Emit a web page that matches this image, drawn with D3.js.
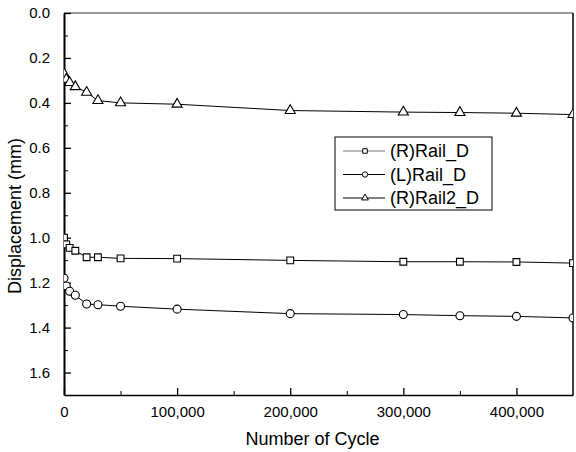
<!DOCTYPE html>
<html>
<head>
<meta charset="utf-8">
<script src="https://cdn.jsdelivr.net/npm/d3@7"></script>
<style>
  body { margin: 0; background: #fff; }
  text { font-family: "Liberation Sans", Arial, sans-serif; fill: #000; }
</style>
</head>
<body>
<script>
// data
var cycles = [0, 2000, 5000, 10000, 20000, 30000, 50000, 100000, 200000, 300000, 350000, 400000, 450000];
var railR  = [1.00, 1.03, 1.045, 1.058, 1.087, 1.087, 1.092, 1.093, 1.101, 1.107, 1.107, 1.108, 1.113];
var railL  = [1.18, 1.215, 1.238, 1.256, 1.295, 1.298, 1.305, 1.318, 1.338, 1.342, 1.347, 1.35, 1.357];
var rail2R = [0.27, 0.295, 0.31, 0.328, 0.353, 0.39, 0.40, 0.406, 0.434, 0.441, 0.443, 0.446, 0.452];
var seriesNames = ["(R)Rail_D", "(L)Rail_D", "(R)Rail2_D"];
var xTicks = [0, 100000, 200000, 300000, 400000];
var yTicks = [0, 0.2, 0.4, 0.6, 0.8, 1.0, 1.2, 1.4, 1.6];

// set the dimensions and margins of the graph
var margin = {top: 13, right: 3, bottom: 57, left: 64},
    width = 576 - margin.left - margin.right,
    height = 452 - margin.top - margin.bottom;

var x = d3.scaleLinear().domain([0, 450000]).range([0, width]);
var y = d3.scaleLinear().domain([0, 1.7]).range([0, height]);

var svg = d3.select("body").append("svg")
    .attr("width", 576)
    .attr("height", 452)
  .append("g")
    .attr("transform", "translate(" + margin.left + "," + margin.top + ")");

svg.append("clipPath").attr("id", "clip")
  .append("rect").attr("width", width).attr("height", height);

// frame (top and right)
svg.append("line").attr("x1", 0).attr("x2", width).attr("y1", 0).attr("y2", 0)
  .attr("stroke", "#333").attr("stroke-width", 1);
svg.append("line").attr("x1", width).attr("x2", width).attr("y1", 0).attr("y2", height)
  .attr("stroke", "#000").attr("stroke-width", 1.5);

// bottom axis, ticks pointing inward
var xAxis = svg.append("g")
  .attr("transform", "translate(0," + height + ")")
  .call(d3.axisBottom(x).tickValues(xTicks).tickSizeInner(-7).tickSizeOuter(0)
    .tickPadding(11).tickFormat(d3.format(",")));
xAxis.selectAll(".tick text").attr("font-size", 15).attr("font-family", "Liberation Sans, Arial, sans-serif");
xAxis.selectAll(".tick line").attr("stroke-width", 1.3);
xAxis.select(".domain").attr("stroke-width", 1.5);
svg.append("g")
  .attr("transform", "translate(0," + height + ")")
  .call(d3.axisBottom(x).tickValues([50000, 150000, 250000, 350000]).tickSize(-4).tickFormat(""))
  .call(function(g) { g.select(".domain").remove(); });

// left axis
var yAxis = svg.append("g")
  .call(d3.axisLeft(y).tickValues(yTicks).tickSizeInner(-7).tickSizeOuter(0)
    .tickPadding(14).tickFormat(d3.format(".1f")));
yAxis.selectAll(".tick text").attr("font-size", 15).attr("font-family", "Liberation Sans, Arial, sans-serif");
yAxis.selectAll(".tick line").attr("stroke-width", 1.3);
yAxis.select(".domain").attr("stroke-width", 2);
svg.append("g")
  .call(d3.axisLeft(y).tickValues([0.1, 0.3, 0.5, 0.7, 0.9, 1.1, 1.3, 1.5]).tickSize(-4).tickFormat(""))
  .call(function(g) { g.select(".domain").remove(); });

// axis titles
svg.append("text")
  .attr("x", width / 2 - 6).attr("y", height + 50)
  .attr("text-anchor", "middle").attr("font-size", 18)
  .text("Number of Cycle");
svg.append("text")
  .attr("transform", "translate(" + (-43) + "," + (height / 2 + 12) + ") rotate(-90)")
  .attr("text-anchor", "middle").attr("font-size", 18)
  .text("Displacement (mm)");

// series
var symbols = [d3.symbolSquare, d3.symbolCircle, d3.symbolTriangle];
var symSizes = [46, 50, 44];
var series = [railR, railL, rail2R];

var line = d3.line()
  .x(function(d, i) { return x(cycles[i]); })
  .y(function(d) { return y(d); });

var plot = svg.append("g").attr("clip-path", "url(#clip)");

series.forEach(function(vals, s) {
  plot.append("path")
    .datum(vals)
    .attr("fill", "none")
    .attr("stroke", "#000")
    .attr("stroke-width", 1)
    .attr("d", line);
  plot.selectAll(".m" + s)
    .data(vals).enter()
    .append("path")
    .attr("class", "m" + s)
    .attr("transform", function(d, i) { return "translate(" + x(cycles[i]) + "," + y(d) + ")"; })
    .attr("d", d3.symbol().type(symbols[s]).size(symSizes[s]))
    .attr("fill", "#fff")
    .attr("stroke", "#000")
    .attr("stroke-width", 1.1);
});

// legend
var legend = svg.append("g").attr("transform", "translate(271,124)");
legend.append("rect")
  .attr("width", 157).attr("height", 73)
  .attr("fill", "#fff").attr("stroke", "#000").attr("stroke-width", 1);
seriesNames.forEach(function(name, s) {
  var gy = 14 + s * 23.5;
  legend.append("line").attr("x1", 8).attr("x2", 50).attr("y1", gy).attr("y2", gy)
    .attr("stroke", s === 0 ? "#777" : "#000").attr("stroke-width", 1);
  legend.append("path")
    .attr("transform", "translate(30," + gy + ")")
    .attr("d", d3.symbol().type(symbols[s]).size(symSizes[s] * 0.45))
    .attr("fill", "#fff").attr("stroke", "#000").attr("stroke-width", 1);
  legend.append("text")
    .attr("x", 55).attr("y", gy + 6)
    .attr("font-size", 18)
    .text(name);
});
</script>
</body>
</html>
